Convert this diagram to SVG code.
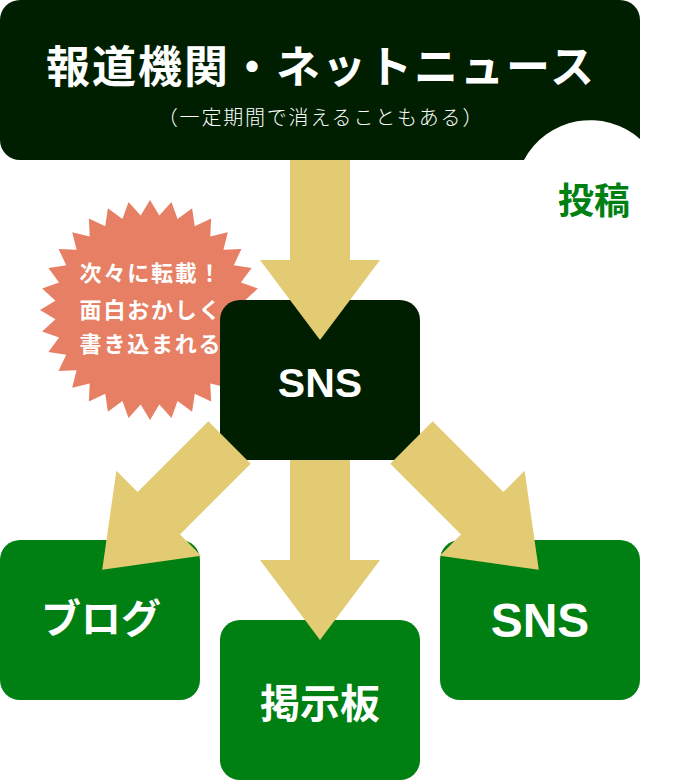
<svg xmlns="http://www.w3.org/2000/svg" width="674" height="780" viewBox="0 0 674 780">
<style>
.dark{fill:#001f00}
.green{fill:#007f12}
.arrow{fill:#e2cb73}
.t{font-family:"Noto Sans CJK JP","Noto Sans",sans-serif;font-weight:bold;fill:#fff;text-anchor:middle}
.lat{font-family:"Liberation Sans",Arial,sans-serif;font-weight:bold;fill:#fff;text-anchor:middle}
.sub{font-family:"Noto Sans CJK JP","Noto Sans",sans-serif;font-weight:300;fill:#fff;text-anchor:middle}
</style>
<defs>
<path id="arr" d="M-30,0 H30 V100 H60 L0,180 L-60,100 H-30 Z"/>
</defs>
<rect width="674" height="780" fill="#fff"/>
<g id="banner">
<path class="dark" d="M20,0 H620 A20,20 0 0 1 640,20 V139 A75,75 0 0 0 524,160 H20 A20,20 0 0 1 0,140 V20 A20,20 0 0 1 20,0 Z"/>
<text class="t" x="321" y="83" font-size="44" letter-spacing="2">報道機関・ネットニュース</text>
<text class="sub" x="321" y="125" font-size="20" letter-spacing="1.8">（一定期間で消えることもある）</text>
</g>
<g id="post">
<text class="t" x="594" y="214" font-size="36" style="fill:#007f12">投稿</text>
</g>
<g id="burst">
<path fill="#e77f65" d="M150,200 L159.31,215.46 L171.46,202.11 L177.58,219.09 L192.10,208.37 L194.78,226.22 L211.12,218.53 L210.27,236.56 L227.78,232.22 L223.44,249.73 L241.47,248.88 L233.78,265.22 L251.63,267.90 L240.91,282.42 L257.89,288.54 L244.54,300.69 L260,310 L244.54,319.31 L257.89,331.46 L240.91,337.58 L251.63,352.10 L233.78,354.78 L241.47,371.12 L223.44,370.27 L227.78,387.78 L210.27,383.44 L211.12,401.47 L194.78,393.78 L192.10,411.63 L177.58,400.91 L171.46,417.89 L159.31,404.54 L150,420 L140.69,404.54 L128.54,417.89 L122.42,400.91 L107.90,411.63 L105.22,393.78 L88.88,401.47 L89.73,383.44 L72.22,387.78 L76.56,370.27 L58.53,371.12 L66.22,354.78 L48.37,352.10 L59.09,337.58 L42.11,331.46 L55.46,319.31 L40,310 L55.46,300.69 L42.11,288.54 L59.09,282.42 L48.37,267.90 L66.22,265.22 L58.53,248.88 L76.56,249.73 L72.22,232.22 L89.73,236.56 L88.88,218.53 L105.22,226.22 L107.90,208.37 L122.42,219.09 L128.54,202.11 L140.69,215.46 Z"/>
<text class="t" x="151" y="281" font-size="22" letter-spacing="1.8">次々に転載！</text>
<text class="t" x="151" y="318" font-size="22" letter-spacing="1.8">面白おかしく</text>
<text class="t" x="151" y="352" font-size="22" letter-spacing="1.8">書き込まれる</text>
</g>
<g id="sns-center">
<rect class="dark" x="220" y="300" width="200" height="160" rx="20"/>
</g>
<g id="blog">
<rect class="green" x="0" y="540" width="200" height="160" rx="20"/>
</g>
<g id="board">
<rect class="green" x="220" y="620" width="200" height="160" rx="20"/>
</g>
<g id="sns-right">
<rect class="green" x="440" y="540" width="200" height="160" rx="20"/>
</g>
<g id="connectors" class="arrow">
<use href="#arr" transform="translate(320,160)"/>
<use href="#arr" transform="translate(320,460)"/>
<use href="#arr" transform="translate(229.5,442.5) rotate(45)"/>
<use href="#arr" transform="translate(411.5,442.5) rotate(-45)"/>
</g>
<g id="labels">
<text class="lat" x="320" y="397" font-size="41">SNS</text>
<text class="t" x="101" y="633" font-size="40">ブログ</text>
<text class="t" x="320" y="718" font-size="40">掲示板</text>
<text class="lat" x="540" y="637" font-size="48">SNS</text>
</g>
</svg>
